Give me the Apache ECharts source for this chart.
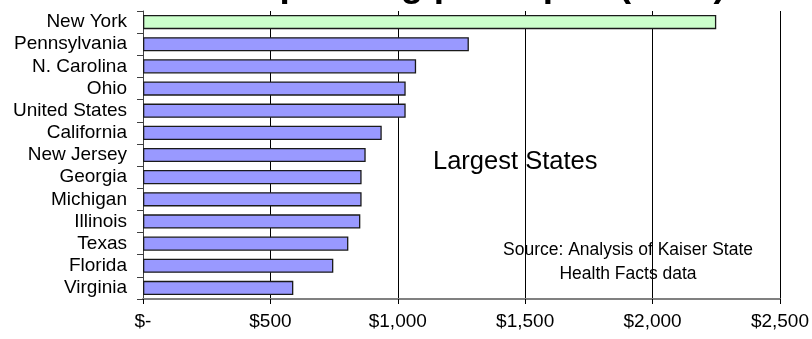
<!DOCTYPE html>
<html>
<head>
<meta charset="utf-8">
<script src="https://cdn.jsdelivr.net/npm/echarts@6/dist/echarts.min.js"></script>
<style>
html,body{margin:0;padding:0;background:#fff;}
#chart{width:812px;height:339px;}
</style>
</head>
<body>
<div id="chart"></div>
<script>
var titleText = 'Medicaid Spending per capita (2004)';
var states = ['New York','Pennsylvania','N. Carolina','Ohio','United States','California','New Jersey','Georgia','Michigan','Illinois','Texas','Florida','Virginia'];
var spending = [2250, 1279, 1072, 1031, 1031, 937, 874, 858, 858, 853, 806, 747, 590];
var tickValues = [0, 500, 1000, 1500, 2000, 2500];
var tickLabels = ['$-', '$500', '$1,000', '$1,500', '$2,000', '$2,500'];
var noteText = 'Largest States';
var sourceText = 'Source: Analysis of Kaiser State\nHealth Facts data';

var FONT = 'Liberation Sans, Arial, sans-serif';
var chart = echarts.init(document.getElementById('chart'), null, {renderer: 'canvas'});
var barData = spending.map(function (v, i) {
  return {
    value: v,
    itemStyle: {color: i === 0 ? '#CCFFCC' : '#9999FF'}
  };
});
chart.setOption({
  animation: false,
  backgroundColor: '#fff',
  title: {
    text: titleText,
    left: 'center',
    top: -33,
    padding: 0,
    textStyle: {fontFamily: FONT, fontSize: 37, fontWeight: 'bold', color: '#000'}
  },
  grid: {left: 143, right: 31, top: 11, bottom: 40, containLabel: false},
  xAxis: {
    type: 'value',
    min: 0,
    max: 2500,
    interval: 500,
    axisLine: {show: true, onZero: false, lineStyle: {color: '#808080', width: 2}},
    axisTick: {show: true, length: 5, lineStyle: {color: '#000', width: 1}},
    splitLine: {show: true, lineStyle: {color: '#000', width: 1}},
    axisLabel: {
      margin: 13,
      fontFamily: FONT,
      fontSize: 19,
      color: '#000',
      formatter: function (v) {
        var idx = tickValues.indexOf(v);
        return idx >= 0 ? tickLabels[idx] : '';
      }
    }
  },
  yAxis: {
    type: 'category',
    data: states,
    inverse: true,
    axisLine: {show: true, lineStyle: {color: '#404040', width: 1}},
    axisTick: {show: true, length: 6, alignWithLabel: false, lineStyle: {color: '#404040'}},
    axisLabel: {interval: 0, margin: 16, fontFamily: FONT, fontSize: 19, color: '#000'},
    splitLine: {show: false}
  },
  series: [{
    type: 'bar',
    data: barData,
    barCategoryGap: '36%',
    itemStyle: {borderColor: '#1a1a1a', borderWidth: 1.3}
  }],
  graphic: [
    {
      type: 'text',
      left: 433,
      top: 149,
      style: {text: noteText, font: '25.5px ' + FONT, fill: '#000'}
    },
    {
      type: 'text',
      x: 628,
      y: 238,
      style: {text: sourceText, font: '17.5px ' + FONT, fill: '#000', align: 'center', lineHeight: 24}
    }
  ]
});
</script>
</body>
</html>
